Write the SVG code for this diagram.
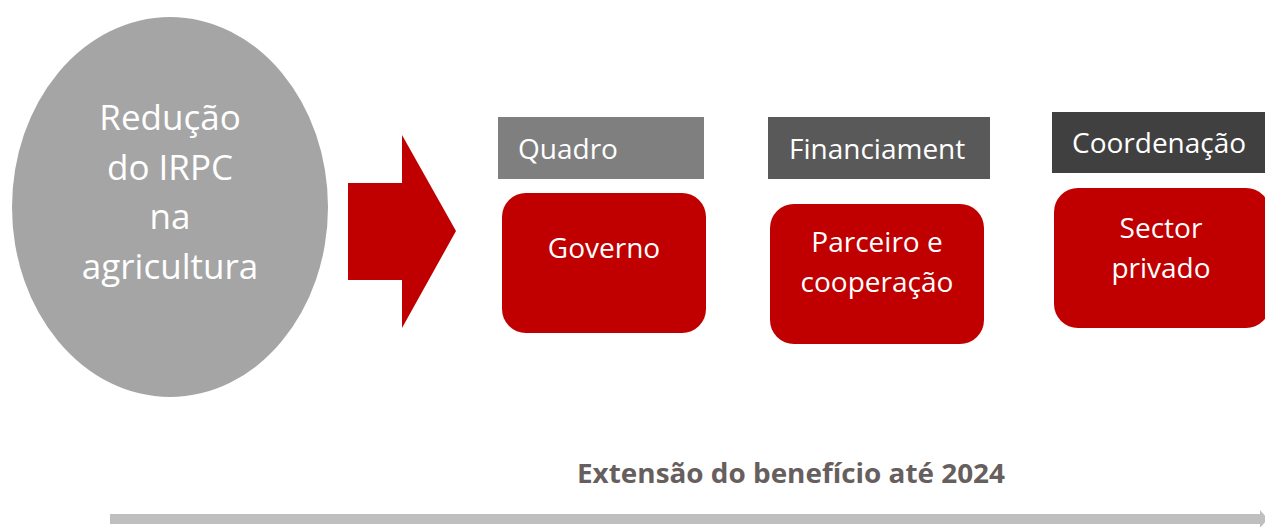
<svg xmlns="http://www.w3.org/2000/svg" width="1265" height="527" viewBox="0 0 1265 527">
<style>
.t{font-family:"Open Sans","Noto Sans",sans-serif;fill:#fff;}
.red{fill:#c00000;}
</style>
<rect width="1265" height="527" fill="#fff"/>
<g id="node-reducao">
<ellipse cx="170" cy="207" rx="158" ry="190" fill="#a5a5a5"/>
<text class="t" font-size="35" text-anchor="middle"><tspan x="170" y="130">Redução</tspan><tspan x="170" y="180">do IRPC</tspan><tspan x="170" y="229">na</tspan><tspan x="170" y="279">agricultura</tspan></text>
</g>
<g id="connectors">
<polygon points="348,183 402,183 402,135 456,231 402,328 402,280 348,280" fill="#c00000"/>
<polygon points="110,514 1260,514 1260,510 1268,519 1260,528 1260,524 110,524" fill="#bfbfbf"/>
</g>
<g id="node-quadro">
<rect x="498" y="117" width="206" height="62" fill="#7f7f7f"/>
<text class="t" x="518" y="159" font-size="28">Quadro</text>
</g>
<g id="node-financiament">
<rect x="768" y="117" width="222" height="62" fill="#595959"/>
<text class="t" x="789" y="159" font-size="28">Financiament</text>
</g>
<g id="node-coordenacao">
<rect x="1052" y="112" width="213" height="61" fill="#404040"/>
<text class="t" x="1072" y="153" font-size="28">Coordenação</text>
</g>
<g id="node-governo">
<rect class="red" x="502" y="193" width="204" height="140" rx="24"/>
<text class="t" x="604" y="258" font-size="28" text-anchor="middle">Governo</text>
</g>
<g id="node-parceiro">
<rect class="red" x="770" y="204" width="214" height="140" rx="24"/>
<text class="t" font-size="28" text-anchor="middle"><tspan x="877" y="252">Parceiro e</tspan><tspan x="877" y="292">cooperação</tspan></text>
</g>
<g id="node-sector">
<rect class="red" x="1054" y="188" width="216" height="140" rx="24"/>
<text class="t" font-size="28" text-anchor="middle"><tspan x="1161" y="238">Sector</tspan><tspan x="1161" y="278">privado</tspan></text>
</g>
<g id="label-extensao">
<text x="577" y="483" font-family="'Open Sans','Noto Sans',sans-serif" font-weight="700" font-size="26" fill="#675e5e" textLength="428" lengthAdjust="spacingAndGlyphs">Extensão do benefício até 2024</text>
</g>
</svg>
